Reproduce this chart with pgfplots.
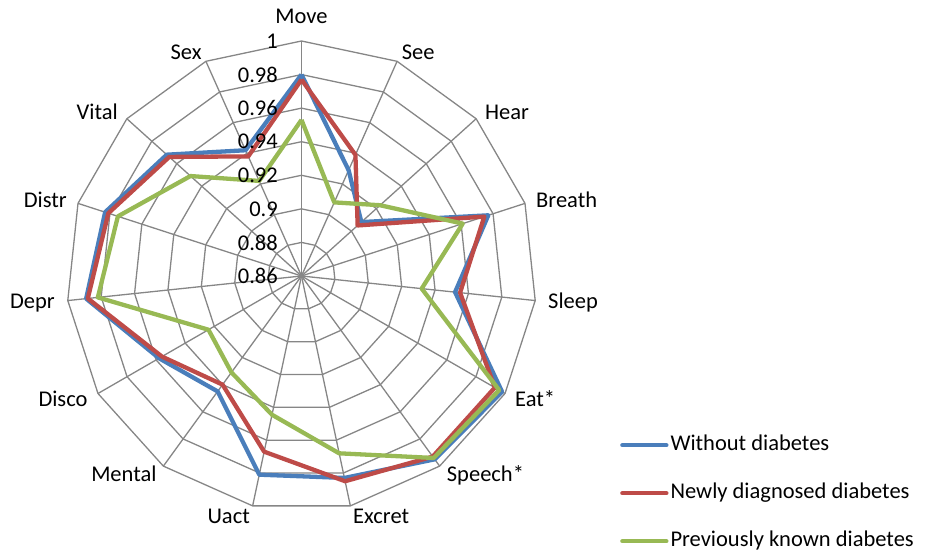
\documentclass[border=0pt]{standalone}
\usepackage{pgfplots}
\pgfplotsset{compat=1.18}
\usepackage{pgfplotstable}
\usepgfplotslibrary{polar}
\usepackage{fontspec}
\setmainfont{Carlito}
\definecolor{cblue}{RGB}{74,126,187}
\definecolor{cred}{RGB}{190,75,72}
\definecolor{cgreen}{RGB}{152,185,84}
\definecolor{gridc}{RGB}{134,134,134}

% angle (deg, Move at top, clockwise), value
\pgfplotstableread{
a v
90 0.980
66 0.929
42 0.908
18 0.977
354 0.952
330 0.998
306 0.995
282 0.983
258 0.981
234 0.945
210 0.958
186 0.989
162 0.983
138 0.968
114 0.942
90 0.980
}\tblue
\pgfplotstableread{
a v
90 0.977
66 0.939
42 0.905
18 0.9745
354 0.955
330 0.993
306 0.993
282 0.985
258 0.967
234 0.940
210 0.956
186 0.988
162 0.981
138 0.966
114 0.938
90 0.977
}\tred
\pgfplotstableread{
a v
90 0.953
66 0.908
42 0.923
18 0.961
354 0.932
330 0.996
306 0.994
282 0.968
258 0.9445
234 0.931
210 0.924
186 0.982
162 0.975
138 0.949
114 0.922
90 0.953
}\tgreen

\begin{document}
\begin{tikzpicture}[x=1pt,y=1pt,font=\fontsize{22.5}{27}\selectfont]
\useasboundingbox (0,0) rectangle (928,553);
\begin{polaraxis}[
  at={(301.5pt,277pt)}, anchor=origin,
  scale only axis, width=470pt, height=470pt,
  xmin=0, xmax=360, ymin=0, ymax=0.14,
  hide axis, clip=false,
  legend cell align=left,
  legend style={at={(1.1777,0.1616)}, anchor=north west, draw=none, fill=none,
    font=\fontsize{22.5}{27}\selectfont, row sep=28pt, inner sep=0pt,
    nodes={inner xsep=2pt, inner ysep=0pt, text height=15pt, text depth=5pt}},
  legend image code/.code={\draw[#1, line width=4.3pt, line cap=round] (0pt,0pt) -- (44pt,0pt);},
]
% grid rings
\pgfplotsinvokeforeach{0.02,0.04,0.06,0.08,0.10,0.12,0.14}{
  \addplot[gridc, line width=1.3pt, forget plot] coordinates {(90,#1) (66,#1) (42,#1) (18,#1) (354,#1) (330,#1) (306,#1) (282,#1) (258,#1) (234,#1) (210,#1) (186,#1) (162,#1) (138,#1) (114,#1) (90,#1)};
}
% spokes
\pgfplotsinvokeforeach{90,66,42,18,354,330,306,282,258,234,210,186,162,138,114}{
  \addplot[gridc, line width=1.3pt, forget plot] coordinates {(#1,0) (#1,0.14)};
}
\addplot[cblue, line width=4.3pt, line join=round] table[x=a, y expr=\thisrow{v}-0.86] {\tblue};
\addlegendentry{Without diabetes}
\addplot[cred, line width=4.3pt, line join=round] table[x=a, y expr=\thisrow{v}-0.86] {\tred};
\addlegendentry{Newly diagnosed diabetes}
\addplot[cgreen, line width=4.3pt, line join=round] table[x=a, y expr=\thisrow{v}-0.86] {\tgreen};
\addlegendentry{Previously known diabetes}
% radial tick labels
\node[anchor=east, inner sep=0pt, xshift=-23.5pt] at (axis cs:90,0) {0.86};
\node[anchor=east, inner sep=0pt, xshift=-23.5pt] at (axis cs:90,0.02) {0.88};
\node[anchor=east, inner sep=0pt, xshift=-23.5pt] at (axis cs:90,0.04) {0.9};
\node[anchor=east, inner sep=0pt, xshift=-23.5pt] at (axis cs:90,0.06) {0.92};
\node[anchor=east, inner sep=0pt, xshift=-23.5pt] at (axis cs:90,0.08) {0.94};
\node[anchor=east, inner sep=0pt, xshift=-23.5pt] at (axis cs:90,0.10) {0.96};
\node[anchor=east, inner sep=0pt, xshift=-23.5pt] at (axis cs:90,0.12) {0.98};
\node[anchor=east, inner sep=0pt, xshift=-23.5pt] at (axis cs:90,0.14) {1};
\end{polaraxis}
% category labels
\begin{scope}[every node/.style={inner sep=0pt}]
\node[anchor=base] at (301.5,529) {Move};
\node[anchor=base west] at (401.7,493) {See};
\node[anchor=base west] at (485,433.5) {Hear};
\node[anchor=base west] at (536,345) {Breath};
\node[anchor=base west] at (548,244) {Sleep};
\node[anchor=base west] at (515,146) {Eat*};
\node[anchor=base west] at (446.7,71) {Speech*};
\node[anchor=base west] at (353,29) {Excret};
\node[anchor=base east] at (250,29) {Uact};
\node[anchor=base east] at (156.7,71) {Mental};
\node[anchor=base east] at (87.7,146) {Disco};
\node[anchor=base east] at (55,244) {Depr};
\node[anchor=base east] at (67,345) {Distr};
\node[anchor=base east] at (118,433.5) {Vital};
\node[anchor=base east] at (201.7,493) {Sex};
\end{scope}
\end{tikzpicture}
\end{document}
